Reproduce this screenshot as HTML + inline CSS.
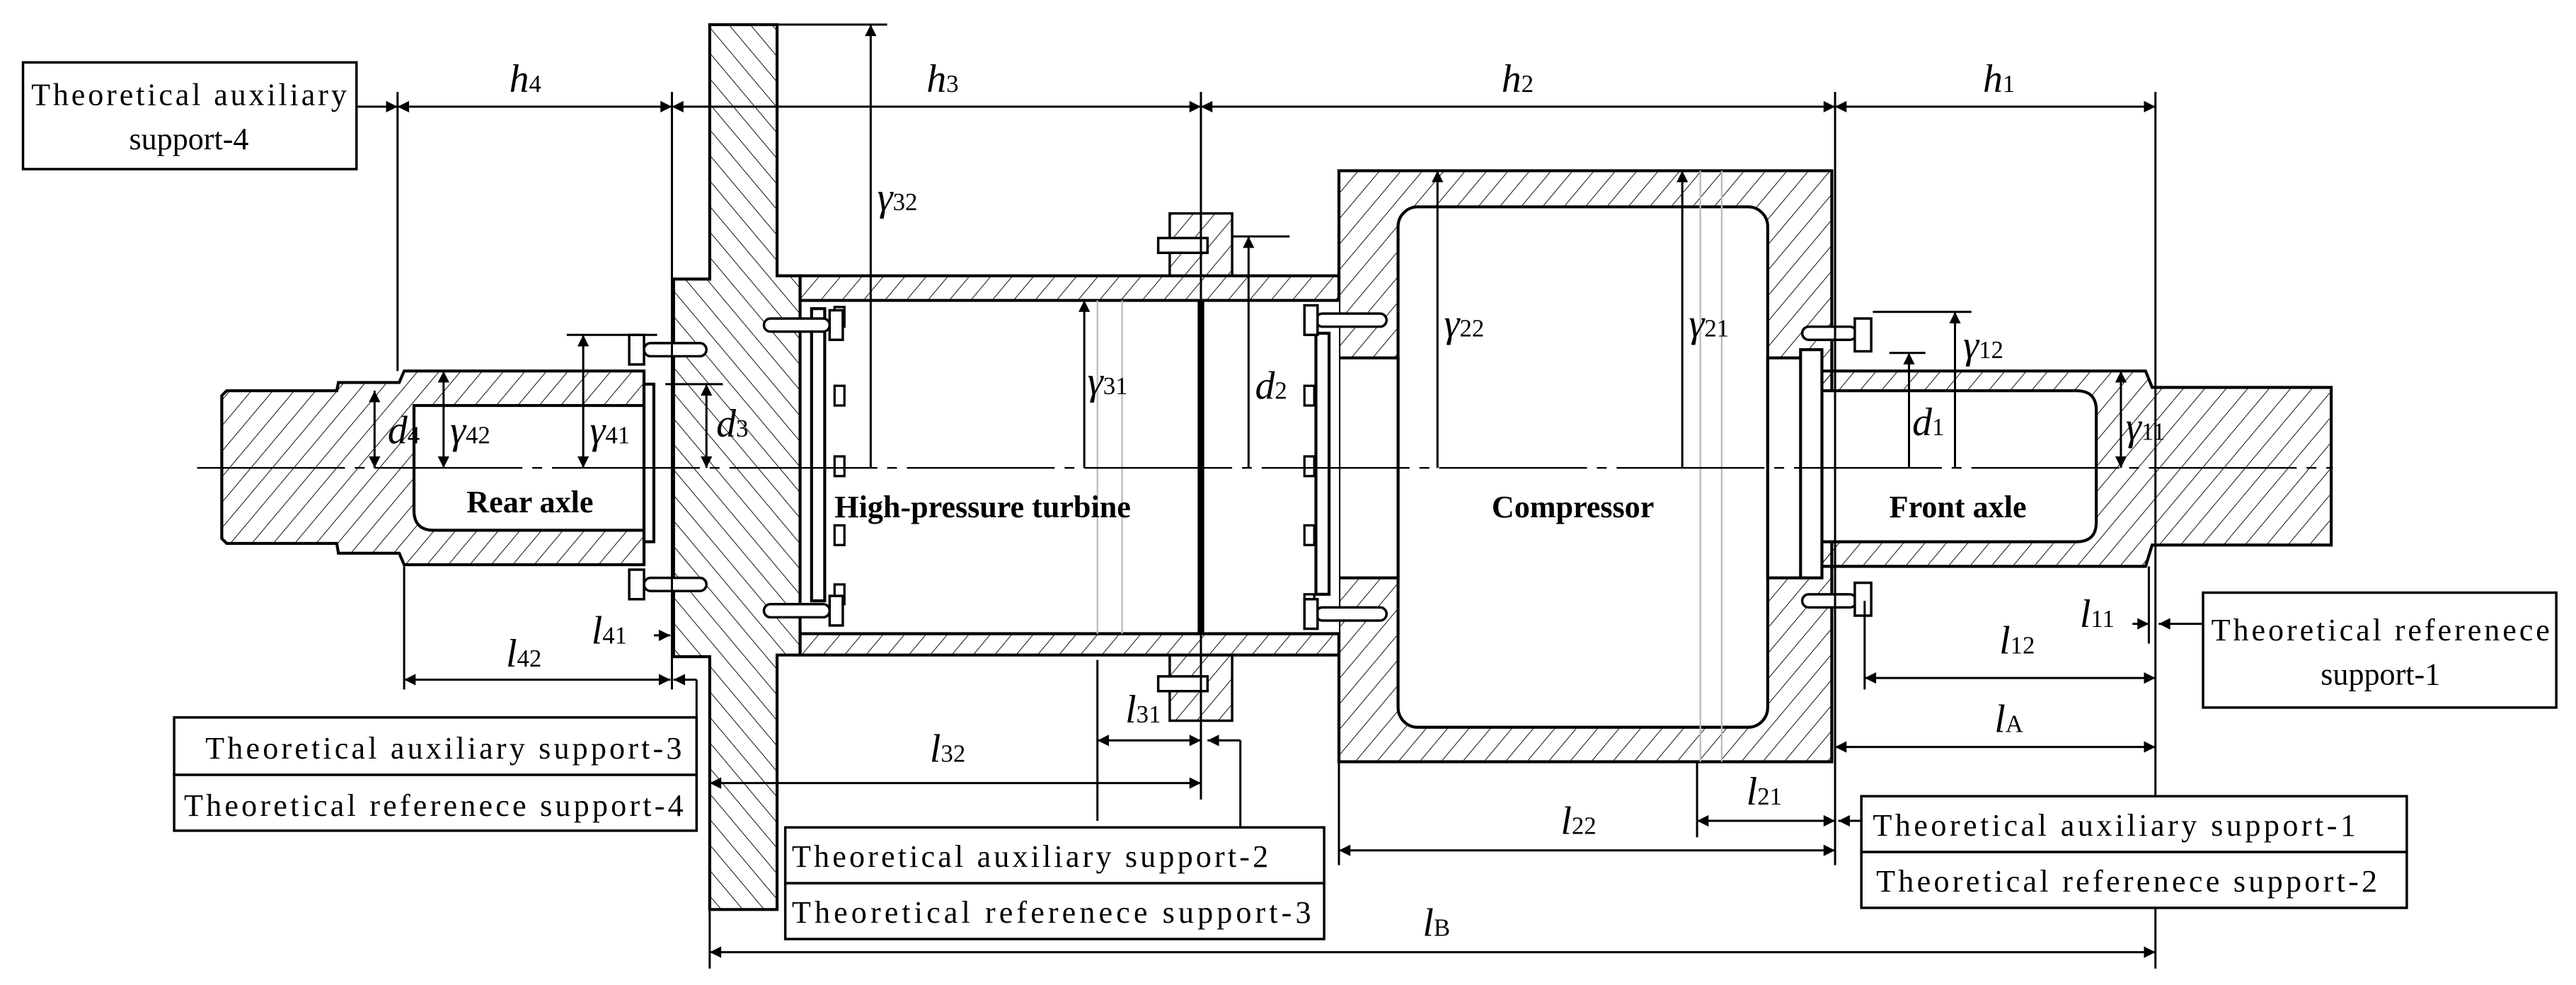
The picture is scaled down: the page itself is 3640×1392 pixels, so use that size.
<!DOCTYPE html>
<html><head><meta charset="utf-8"><style>
html,body{margin:0;padding:0;background:#fff}
svg{display:block}
text{font-family:"Liberation Serif",serif;fill:#000}
.lb{font-size:19px}
.it{font-style:italic;font-size:24px}
.sb{font-size:15px;font-style:normal}
.bold{font-weight:bold;font-size:19px}
</style></head><body>
<svg width="3640" height="1392" viewBox="0 0 1568 600" preserveAspectRatio="none" xmlns="http://www.w3.org/2000/svg">
<defs>
<pattern id="hf" width="10" height="10" patternUnits="userSpaceOnUse" patternTransform="rotate(40)"><line x1="0" y1="0" x2="0" y2="10" stroke="#000" stroke-width="0.8"/></pattern>
<pattern id="hb" width="10" height="10" patternUnits="userSpaceOnUse" patternTransform="rotate(-40)"><line x1="0" y1="0" x2="0" y2="10" stroke="#000" stroke-width="0.8"/></pattern>
<marker id="a" viewBox="0 0 10 10" refX="10" refY="5" markerWidth="9" markerHeight="7" orient="auto-start-reverse" markerUnits="userSpaceOnUse"><path d="M0,0 L10,5 L0,10 Z" fill="#000"/></marker>
</defs>
<rect width="1568" height="600" fill="#fff"/>
<g stroke="#000" stroke-width="1.8">
<path d="M135,241 L138,238 L205,238 L206,233 L243,233 L246,226 L392,226 L392,344 L246,344 L243,337 L206,337 L205,331 L138,331 L135,328 Z" fill="url(#hf)"/>
<path d="M252,247 L392,247 L392,323 L264,323 Q252,323 252,311 Z" fill="#fff"/>
<rect x="392" y="234" width="6" height="96" fill="#fff"/>
<path d="M432,15 L473,15 L473,168 L487,168 L487,399 L473,399 L473,554 L432,554 L432,400 L410,400 L410,170 L432,170 Z" fill="url(#hb)"/>
<rect x="487" y="168" width="328" height="15" fill="url(#hf)"/>
<rect x="487" y="386" width="328" height="13" fill="url(#hf)"/>
<rect x="506" y="183" width="225" height="203" fill="#fff" stroke="none"/>
<line x1="506" y1="183" x2="731" y2="183"/><line x1="506" y1="386" x2="731" y2="386"/>
<rect x="494" y="188" width="8" height="178" fill="#fff"/>
<g fill="#fff" stroke-width="1.4">
<rect x="508" y="187" width="6" height="12"/><rect x="508" y="235" width="6" height="12"/><rect x="508" y="278" width="6" height="12"/><rect x="508" y="320" width="6" height="12"/><rect x="508" y="356" width="6" height="12"/>
</g>
<line x1="731" y1="183" x2="731" y2="386" stroke-width="4"/>
<path d="M815,104 L1115,104 L1115,464 L815,464 Z" fill="url(#hf)"/>
<rect x="851" y="126" width="225" height="317" rx="12" fill="#fff"/>
<rect x="815" y="218" width="36" height="134" fill="#fff"/>
<rect x="1076" y="218" width="24" height="134" fill="#fff"/>
<rect x="735" y="183" width="80" height="203" fill="#fff" stroke="none"/>
<line x1="735" y1="183" x2="815" y2="183"/><line x1="735" y1="386" x2="815" y2="386"/>
<rect x="801" y="203" width="8" height="159" fill="#fff"/>
<g fill="#fff" stroke-width="1.4">
<rect x="794" y="190" width="6" height="12"/><rect x="794" y="235" width="6" height="12"/><rect x="794" y="278" width="6" height="12"/><rect x="794" y="320" width="6" height="12"/><rect x="794" y="362" width="6" height="12"/>
</g>
<path d="M1100,226 L1306,226 L1310,236 L1419,236 L1419,332 L1310,332 L1306,345 L1100,345 Z" fill="url(#hf)"/>
<path d="M1109,238 L1264,238 Q1276,238 1276,250 L1276,318 Q1276,330 1264,330 L1109,330 Z" fill="#fff"/>
<rect x="1096" y="213" width="13" height="139" fill="#fff"/>
<g fill="#fff" stroke-width="1.5">
<rect x="465" y="194" width="40" height="8" rx="4"/><rect x="505" y="189" width="8" height="18"/>
<rect x="465" y="368" width="40" height="8" rx="4"/><rect x="505" y="363" width="8" height="18"/>
<rect x="801" y="191" width="43" height="8" rx="4"/><rect x="794" y="186" width="8" height="18"/>
<rect x="801" y="370" width="43" height="8" rx="4"/><rect x="794" y="365" width="8" height="18"/>
<rect x="1097" y="199" width="33" height="8" rx="4"/><rect x="1129" y="194" width="10" height="20"/>
<rect x="1097" y="362" width="33" height="8" rx="4"/><rect x="1129" y="355" width="10" height="20"/>
<rect x="392" y="209" width="38" height="8" rx="4"/><rect x="383" y="204" width="9" height="18"/>
<rect x="392" y="352" width="38" height="8" rx="4"/><rect x="383" y="347" width="9" height="18"/>
<rect x="712" y="130" width="38" height="38" fill="url(#hf)"/><rect x="705" y="145" width="30" height="9"/>
<rect x="712" y="399" width="38" height="40" fill="url(#hf)"/><rect x="705" y="412" width="30" height="9"/>
</g>
</g>
<g stroke="#bbb" stroke-width="1">
<line x1="1035" y1="104" x2="1035" y2="464"/><line x1="1048" y1="104" x2="1048" y2="464"/>
<line x1="668" y1="183" x2="668" y2="386"/><line x1="683" y1="183" x2="683" y2="386"/>
</g>
<line x1="120" y1="285" x2="1420" y2="285" stroke="#000" stroke-width="1" stroke-dasharray="90,6,6,6"/>
<g stroke="#000" stroke-width="1.3" fill="none">
<line x1="242" y1="56" x2="242" y2="226"/><line x1="409" y1="56" x2="409" y2="420"/><line x1="731" y1="56" x2="731" y2="487"/><line x1="1117" y1="56" x2="1117" y2="527"/><line x1="1312" y1="56" x2="1312" y2="590"/><line x1="1308" y1="345" x2="1308" y2="392"/>
<line x1="217" y1="65" x2="242" y2="65" marker-end="url(#a)"/>
<line x1="242" y1="65" x2="409" y2="65" marker-start="url(#a)" marker-end="url(#a)"/>
<line x1="409" y1="65" x2="731" y2="65" marker-start="url(#a)" marker-end="url(#a)"/>
<line x1="731" y1="65" x2="1117" y2="65" marker-start="url(#a)" marker-end="url(#a)"/>
<line x1="1117" y1="65" x2="1312" y2="65" marker-start="url(#a)" marker-end="url(#a)"/>
<line x1="473" y1="15" x2="540" y2="15"/>
<line x1="530" y1="15" x2="530" y2="285" marker-start="url(#a)"/>
<line x1="660" y1="183" x2="660" y2="285" marker-start="url(#a)"/>
<line x1="750" y1="144" x2="785" y2="144"/>
<line x1="760" y1="144" x2="760" y2="285" marker-start="url(#a)"/>
<line x1="875" y1="104" x2="875" y2="285" marker-start="url(#a)"/>
<line x1="1024" y1="104" x2="1024" y2="285" marker-start="url(#a)"/>
<line x1="1150" y1="215" x2="1172" y2="215"/>
<line x1="1162" y1="215" x2="1162" y2="285" marker-start="url(#a)"/>
<line x1="1140" y1="190" x2="1200" y2="190"/>
<line x1="1190" y1="190" x2="1190" y2="285" marker-start="url(#a)"/>
<line x1="1291" y1="226" x2="1291" y2="285" marker-start="url(#a)" marker-end="url(#a)"/>
<line x1="228" y1="238" x2="228" y2="285" marker-start="url(#a)" marker-end="url(#a)"/>
<line x1="270" y1="226" x2="270" y2="285" marker-start="url(#a)" marker-end="url(#a)"/>
<line x1="345" y1="204" x2="400" y2="204"/>
<line x1="355" y1="204" x2="355" y2="285" marker-start="url(#a)" marker-end="url(#a)"/>
<line x1="405" y1="234" x2="440" y2="234"/>
<line x1="430" y1="234" x2="430" y2="285" marker-start="url(#a)" marker-end="url(#a)"/>
<line x1="246" y1="345" x2="246" y2="420"/>
<line x1="246" y1="414" x2="408" y2="414" marker-start="url(#a)" marker-end="url(#a)"/>
<line x1="398" y1="387" x2="408" y2="387" marker-end="url(#a)"/>
<line x1="424" y1="437" x2="424" y2="414"/><line x1="424" y1="414" x2="410" y2="414" marker-end="url(#a)"/>
<line x1="432" y1="554" x2="432" y2="590"/>
<line x1="432" y1="477" x2="731" y2="477" marker-start="url(#a)" marker-end="url(#a)"/>
<line x1="668" y1="402" x2="668" y2="500"/>
<line x1="668" y1="451" x2="731" y2="451" marker-start="url(#a)" marker-end="url(#a)"/>
<line x1="755" y1="504" x2="755" y2="451"/><line x1="755" y1="451" x2="735" y2="451" marker-end="url(#a)"/>
<line x1="815" y1="464" x2="815" y2="527"/>
<line x1="815" y1="518" x2="1117" y2="518" marker-start="url(#a)" marker-end="url(#a)"/>
<line x1="1033" y1="464" x2="1033" y2="510"/>
<line x1="1033" y1="500" x2="1117" y2="500" marker-start="url(#a)" marker-end="url(#a)"/>
<line x1="1133" y1="500" x2="1119" y2="500" marker-end="url(#a)"/>
<line x1="1117" y1="455" x2="1312" y2="455" marker-start="url(#a)" marker-end="url(#a)"/>
<line x1="1135" y1="366" x2="1135" y2="420"/>
<line x1="1135" y1="413" x2="1312" y2="413" marker-start="url(#a)" marker-end="url(#a)"/>
<line x1="1298" y1="380" x2="1308" y2="380" marker-end="url(#a)"/>
<line x1="1341" y1="380" x2="1314" y2="380" marker-end="url(#a)"/>
<line x1="432" y1="580" x2="1312" y2="580" marker-start="url(#a)" marker-end="url(#a)"/>
</g>
<g stroke="#000" stroke-width="1.5" fill="#fff">
<rect x="14" y="38" width="203" height="65"/>
<rect x="106" y="437" width="318" height="35"/><rect x="106" y="472" width="318" height="34"/>
<rect x="478" y="504" width="328" height="34"/><rect x="478" y="538" width="328" height="34"/>
<rect x="1133" y="485" width="332" height="34"/><rect x="1133" y="519" width="332" height="34"/>
<rect x="1341" y="361" width="215" height="70"/>
</g>
<g class="lb">
<text x="115" y="64" text-anchor="middle" textLength="192">Theoretical auxiliary</text>
<text x="115" y="91" text-anchor="middle">support-4</text>
<text x="125" y="462" textLength="290">Theoretical auxiliary support-3</text>
<text x="112" y="497" textLength="304">Theoretical referenece support-4</text>
<text x="482" y="528" textLength="290">Theoretical auxiliary support-2</text>
<text x="482" y="562" textLength="316">Theoretical referenece support-3</text>
<text x="1140" y="509" textLength="294">Theoretical auxiliary support-1</text>
<text x="1142" y="543" textLength="305">Theoretical referenece support-2</text>
<text x="1449" y="390" text-anchor="middle" textLength="206">Theoretical referenece</text>
<text x="1449" y="417" text-anchor="middle">support-1</text>
</g>
<g class="bold">
<text x="284" y="312">Rear axle</text>
<text x="508" y="315">High-pressure turbine</text>
<text x="908" y="315">Compressor</text>
<text x="1150" y="315">Front axle</text>
</g>
<g class="it">
<text x="310" y="56">h<tspan class="sb">4</tspan></text>
<text x="564" y="56">h<tspan class="sb">3</tspan></text>
<text x="914" y="56">h<tspan class="sb">2</tspan></text>
<text x="1207" y="56">h<tspan class="sb">1</tspan></text>
<text x="534" y="128">γ<tspan class="sb">32</tspan></text>
<text x="662" y="240">γ<tspan class="sb">31</tspan></text>
<text x="764" y="243">d<tspan class="sb">2</tspan></text>
<text x="879" y="205">γ<tspan class="sb">22</tspan></text>
<text x="1028" y="205">γ<tspan class="sb">21</tspan></text>
<text x="1164" y="265">d<tspan class="sb">1</tspan></text>
<text x="1195" y="218">γ<tspan class="sb">12</tspan></text>
<text x="1294" y="268">γ<tspan class="sb">11</tspan></text>
<text x="236" y="270">d<tspan class="sb">4</tspan></text>
<text x="274" y="270">γ<tspan class="sb">42</tspan></text>
<text x="359" y="270">γ<tspan class="sb">41</tspan></text>
<text x="436" y="266">d<tspan class="sb">3</tspan></text>
<text x="360" y="392">l<tspan class="sb">41</tspan></text>
<text x="308" y="406">l<tspan class="sb">42</tspan></text>
<text x="566" y="464">l<tspan class="sb">32</tspan></text>
<text x="685" y="440">l<tspan class="sb">31</tspan></text>
<text x="950" y="508">l<tspan class="sb">22</tspan></text>
<text x="1063" y="490">l<tspan class="sb">21</tspan></text>
<text x="1214" y="446">l<tspan class="sb">A</tspan></text>
<text x="1217" y="398">l<tspan class="sb">12</tspan></text>
<text x="1266" y="382">l<tspan class="sb">11</tspan></text>
<text x="866" y="570">l<tspan class="sb">B</tspan></text>
</g>
</svg>
</body></html>
